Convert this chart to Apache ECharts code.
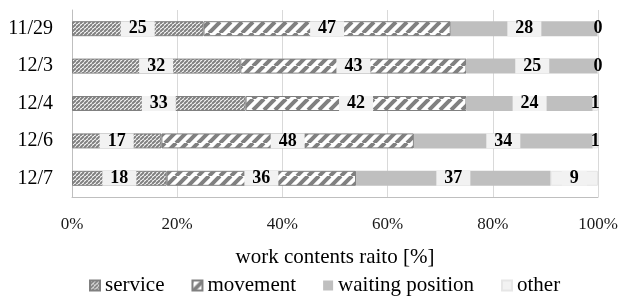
<!DOCTYPE html>
<html><head><meta charset="utf-8">
<script src="https://cdn.jsdelivr.net/npm/echarts@6/dist/echarts.min.js"></script>
<style>html,body{margin:0;padding:0;background:#fff}#c{width:621px;height:296px}</style>
</head><body><div id="c"></div>
<script>
const categories = ['11/29', '12/3', '12/4', '12/6', '12/7'];
const service = [25, 32, 33, 17, 18];
const movement = [47, 43, 42, 48, 36];
const waiting = [28, 25, 24, 34, 37];
const other = [0, 0, 1, 1, 9];
const tickLabels = ['0%', '20%', '40%', '60%', '80%', '100%'];
const seriesNames = ['service', 'movement', 'waiting position', 'other'];

function hatch(size, lw) {
  const c = document.createElement('canvas');
  c.width = c.height = size;
  const ctx = c.getContext('2d');
  ctx.fillStyle = '#fff';
  ctx.fillRect(0, 0, size, size);
  ctx.strokeStyle = '#808080';
  ctx.lineWidth = lw;
  ctx.beginPath();
  for (let k = -1; k <= 1; k++) {
    ctx.moveTo(k * size, size);
    ctx.lineTo(k * size + size, 0);
  }
  ctx.stroke();
  return { image: c, repeat: 'repeat' };
}
const FONT = 'Liberation Serif';
const fine = hatch(4, 2);
const wide = hatch(11, 4);

function mkData(vals) {
  return vals.map(v => ({ value: v, label: v <= 1 ? { backgroundColor: 'transparent' } : {} }));
}
const labelCfg = {
  show: true, position: 'inside', color: '#000', fontFamily: FONT, fontWeight: 'bold',
  fontSize: 18, backgroundColor: '#f2f2f2', padding: [0, 8], lineHeight: 15
};
const styles = [
  { color: fine, borderColor: '#808080', borderWidth: 1 },
  { color: wide, borderColor: '#808080', borderWidth: 1 },
  { color: '#bfbfbf' },
  { color: '#f2f2f2', borderColor: '#e6e6e6', borderWidth: 1 }
];
const vals = [service, movement, waiting, other];
const chart = echarts.init(document.getElementById('c'), null, { renderer: 'canvas' });
chart.setOption({
  animation: false,
  grid: { left: 72, right: 23, top: 10, bottom: 99 },
  legend: {
    data: seriesNames, top: 270, left: 84, itemWidth: 10, itemHeight: 10, itemGap: 27,
    textStyle: { fontFamily: FONT, fontSize: 21, color: '#000' }, icon: 'rect'
  },
  xAxis: {
    type: 'value', min: 0, max: 100, interval: 20,
    axisLabel: { formatter: v => tickLabels[v / 20], fontFamily: FONT, fontSize: 17, color: '#1a1a1a', margin: 19 },
    axisLine: { show: true, lineStyle: { color: '#bfbfbf' } },
    axisTick: { show: false },
    splitLine: { lineStyle: { color: '#d9d9d9' } },
    name: 'work contents raito [%]', nameLocation: 'middle', nameGap: 50,
    nameTextStyle: { fontFamily: FONT, fontSize: 21, color: '#000' }
  },
  yAxis: {
    type: 'category', data: categories, inverse: true,
    axisLine: { show: true, lineStyle: { color: '#bfbfbf' } },
    axisTick: { show: false },
    axisLabel: { fontFamily: FONT, fontSize: 20, color: '#000', margin: 19 }
  },
  series: seriesNames.map((n, i) => ({
    name: n, type: 'bar', stack: 'total', barWidth: 15,
    itemStyle: styles[i], label: labelCfg, data: mkData(vals[i])
  }))
});
</script></body></html>
